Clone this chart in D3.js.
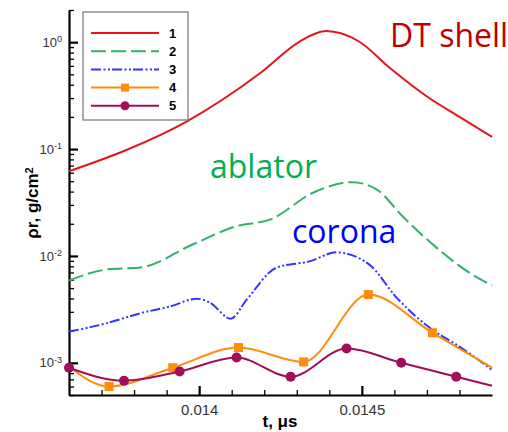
<!DOCTYPE html>
<html>
<head>
<meta charset="utf-8">
<script src="https://cdn.jsdelivr.net/npm/d3@7"></script>
<style>
  body { margin: 0; background: #fff; }
  .axis path, .axis line { stroke: #000; }
  .axis text { font: 15px "Liberation Sans", Arial, sans-serif; fill: #333; }
</style>
</head>
<body>
<svg width="508" height="432"></svg>
<script>
// series 1 - DT shell
var t1 = [0.0136, 0.01378, 0.01396, 0.01419, 0.01431, 0.01439, 0.01449, 0.01459, 0.0147, 0.0148, 0.0149];
var v1 = [0.062, 0.099, 0.18, 0.52, 1.02, 1.27, 1.02, 0.56, 0.31, 0.2, 0.13];
// series 2 - ablator
var t2 = [0.0136, 0.01372, 0.01382, 0.01398, 0.014115, 0.01422, 0.01435, 0.01447, 0.014545, 0.014625, 0.0147, 0.01485, 0.0149];
var v2 = [0.0059, 0.0075, 0.0078, 0.0128, 0.019, 0.022, 0.039, 0.049, 0.042, 0.0235, 0.0143, 0.0064, 0.0053];
// series 3 - corona
var t3 = [0.0136, 0.0137, 0.013827, 0.01391, 0.013993, 0.014033, 0.014097, 0.014146, 0.014238, 0.014339, 0.014422, 0.014523, 0.014606, 0.014717, 0.0148, 0.0149];
var v3 = [0.00196, 0.00228, 0.00295, 0.00336, 0.00398, 0.00366, 0.00259, 0.0039, 0.00778, 0.0089, 0.0108, 0.0083, 0.0041, 0.00204, 0.00142, 0.00086];
// series 4 (squares)
var t4 = [0.0136, 0.013723, 0.013919, 0.014121, 0.014321, 0.01452, 0.014717, 0.0149];
var v4 = [0.00092, 0.0006, 0.0009, 0.00139, 0.00102, 0.00435, 0.00191, 0.0009];
var marks4 = [1, 2, 3, 4, 5, 6];
// series 5 (circles)
var t5 = [0.0136, 0.013769, 0.01394, 0.014115, 0.014281, 0.014453, 0.014621, 0.01479, 0.0149];
var v5 = [0.0009, 0.00068, 0.00083, 0.00112, 0.00074, 0.00136, 0.001, 0.00074, 0.00061];
var marks5 = [0, 1, 2, 3, 4, 5, 6, 7];

var legendNames = ["1", "2", "3", "4", "5"];
var xTicks = [0.014, 0.0145];
var yTicks = [1e-3, 1e-2, 1e-1, 1];
var notes = ["DT shell", "ablator", "corona"];

var svg = d3.select("svg"),
    margin = {top: 10, right: 16, bottom: 37, left: 69},
    width = svg.attr("width") - margin.left - margin.right,
    height = svg.attr("height") - margin.top - margin.bottom,
    g = svg.append("g").attr("transform", "translate(" + margin.left + "," + margin.top + ")");

var x = d3.scaleLinear().domain([0.0136, 0.0149]).range([0, width]),
    y = d3.scaleLog().domain([5e-4, 2]).range([height, 0]);

var line = d3.line()
    .curve(d3.curveMonotoneX)
    .x(function(d) { return x(d.t); })
    .y(function(d) { return y(d.v); });

function pts(ts, vs) { return ts.map(function(t, i) { return {t: t, v: vs[i]}; }); }

var series = [
  {id: "1", values: pts(t1, v1), color: "#e3161d", dash: null},
  {id: "2", values: pts(t2, v2), color: "#2fb26a", dash: "15,5"},
  {id: "3", values: pts(t3, v3), color: "#3434ff", dash: "10,2.5,2,2.5,2,2"},
  {id: "4", values: pts(t4, v4), color: "#ff8c0a", dash: null, marker: "square", marks: marks4},
  {id: "5", values: pts(t5, v5), color: "#a10e5c", dash: null, marker: "circle", marks: marks5}
];

// minor ticks
var xMinor = d3.range(1, 13).map(function(i) { return 0.0136 + i * 0.0001; })
    .filter(function(d) { return Math.abs(d - 0.014) > 1e-7 && Math.abs(d - 0.0145) > 1e-7; });
var yMinor = [];
[1e-4, 1e-3, 1e-2, 1e-1, 1].forEach(function(dec) {
  for (var k = 2; k <= 9; k++) {
    var v = dec * k;
    if (v >= 5e-4 && v <= 2) yMinor.push(v);
  }
});

g.append("g")
    .attr("class", "axis")
    .attr("transform", "translate(0," + height + ")")
    .call(d3.axisBottom(x).tickValues(xMinor).tickSize(-5).tickFormat(""))
    .call(function(s) { s.select(".domain").remove(); s.selectAll("line").attr("stroke-width", 1.3); });

g.append("g")
    .attr("class", "axis")
    .call(d3.axisLeft(y).tickValues(yMinor).tickSize(-5).tickFormat(""))
    .call(function(s) { s.select(".domain").remove(); s.selectAll("line").attr("stroke-width", 1.3); });

var xAxis = g.append("g")
    .attr("class", "axis")
    .attr("transform", "translate(0," + height + ")")
    .call(d3.axisBottom(x).tickValues(xTicks).tickSize(-9).tickSizeOuter(0).tickPadding(9).tickFormat(d3.format("")));
xAxis.select(".domain").attr("stroke-width", 2.2);
xAxis.selectAll(".tick line").attr("stroke-width", 2.2);

var yAxis = g.append("g")
    .attr("class", "axis")
    .call(d3.axisLeft(y).tickValues(yTicks).tickSize(-9).tickSizeOuter(0).tickPadding(7).tickFormat(""));
yAxis.select(".domain").attr("stroke-width", 2.2);
yAxis.selectAll(".tick line").attr("stroke-width", 2.2);
yAxis.selectAll(".tick text")
    .style("font-size", "13px")
    .each(function(d) {
      var t = d3.select(this);
      t.append("tspan").text("10");
      t.append("tspan").attr("dy", "-0.5em").style("font-size", "9px").text(Math.round(Math.log10(d)));
    });

// curves
var curve = g.selectAll(".curve")
  .data(series)
  .enter().append("g")
    .attr("class", "curve");

curve.append("path")
    .attr("fill", "none")
    .attr("stroke-width", 2)
    .attr("stroke", function(d) { return d.color; })
    .attr("stroke-dasharray", function(d) { return d.dash; })
    .attr("d", function(d) { return line(d.values); });

curve.filter(function(d) { return d.marker; }).each(function(s) {
  var sel = d3.select(this).selectAll(".mk")
    .data(s.marks.map(function(i) { return s.values[i]; }))
    .enter();
  if (s.marker === "square") {
    sel.append("rect")
        .attr("x", function(d) { return x(d.t) - 4.5; })
        .attr("y", function(d) { return y(d.v) - 4.5; })
        .attr("width", 9).attr("height", 9)
        .attr("fill", s.color);
  } else {
    sel.append("circle")
        .attr("cx", function(d) { return x(d.t); })
        .attr("cy", function(d) { return y(d.v); })
        .attr("r", 5)
        .attr("fill", s.color);
  }
});

// legend
var legend = g.append("g").attr("transform", "translate(14,2)");
legend.append("rect")
    .attr("width", 105).attr("height", 108)
    .attr("fill", "#fff").attr("stroke", "#777").attr("stroke-width", 1.2);

var item = legend.selectAll(".item")
  .data(series)
  .enter().append("g")
    .attr("transform", function(d, i) { return "translate(0," + (21 + i * 18.2) + ")"; });

item.append("line")
    .attr("x1", 8).attr("x2", 76)
    .attr("stroke-width", 2)
    .attr("stroke", function(d) { return d.color; })
    .attr("stroke-dasharray", function(d) { return d.dash; });
item.filter(function(d) { return d.marker === "square"; }).append("rect")
    .attr("x", 38).attr("y", -4).attr("width", 8).attr("height", 8)
    .attr("fill", function(d) { return d.color; });
item.filter(function(d) { return d.marker === "circle"; }).append("circle")
    .attr("cx", 42).attr("r", 4.5)
    .attr("fill", function(d) { return d.color; });
item.append("text")
    .attr("x", 86).attr("dy", "0.36em")
    .style("font", "bold 13px 'Liberation Sans', Arial, sans-serif")
    .text(function(d, i) { return legendNames[i]; });

// axis titles
svg.append("text")
    .attr("transform", "translate(38,203) rotate(-90)")
    .attr("text-anchor", "middle")
    .style("font", "bold 17px 'Liberation Sans', Arial, sans-serif")
    .call(function(t) {
      t.append("tspan").text("ρr, g/cm");
      t.append("tspan").attr("dy", "-0.5em").style("font-size", "11px").text("2");
    });

svg.append("text")
    .attr("x", 280).attr("y", 427)
    .attr("text-anchor", "middle")
    .style("font", "bold 17px 'Liberation Sans', Arial, sans-serif")
    .text("t, μs");

// annotations
var noteData = [
  {text: notes[0], x: 390, y: 47, color: "#c00000"},
  {text: notes[1], x: 210, y: 178, color: "#00b050"},
  {text: notes[2], x: 292, y: 243, color: "#0000ff"}
];
svg.selectAll(".note")
  .data(noteData)
  .enter().append("text")
    .attr("x", function(d) { return d.x; })
    .attr("y", function(d) { return d.y; })
    .attr("fill", function(d) { return d.color; })
    .style("font", "32px 'Open Sans', sans-serif")
    .text(function(d) { return d.text; });
</script>
</body>
</html>
